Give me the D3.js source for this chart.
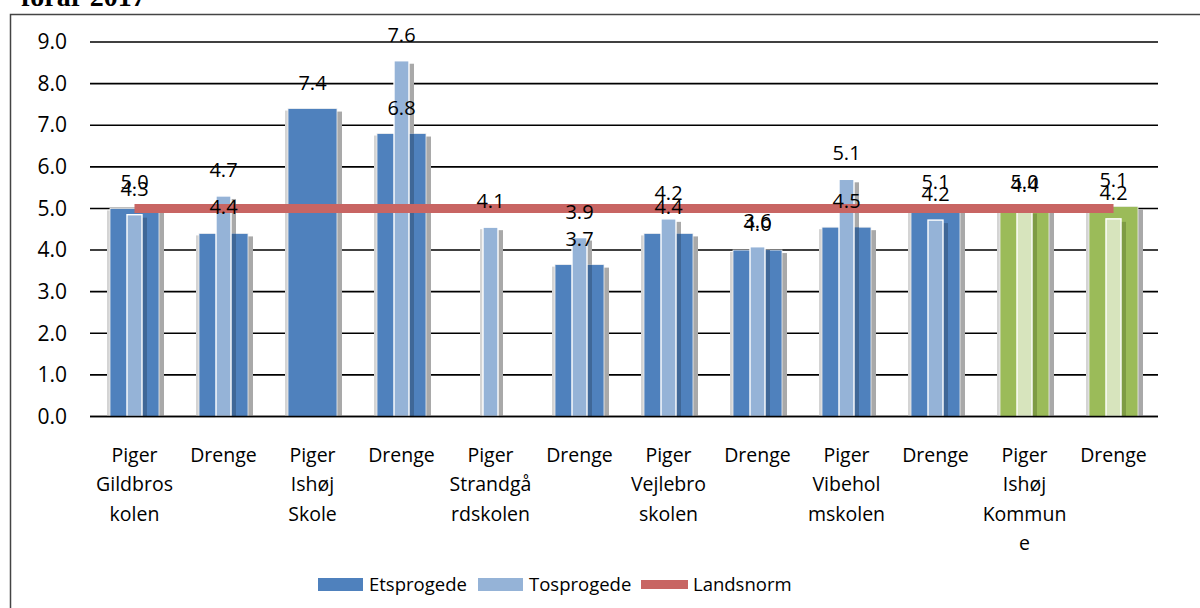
<!DOCTYPE html>
<html><head><meta charset="utf-8">
<script src="https://cdn.jsdelivr.net/npm/d3@7"></script>
<style>
body{margin:0;background:#fff;}
svg{display:block;}
</style></head>
<body>
<svg id="chart" width="1200" height="608"></svg>
<script>
// ---- data ----
const categories = [
  ["Piger","Gildbros","kolen"],
  ["Drenge"],
  ["Piger","Ishøj","Skole"],
  ["Drenge"],
  ["Piger","Strandgå","rdskolen"],
  ["Drenge"],
  ["Piger","Vejlebro","skolen"],
  ["Drenge"],
  ["Piger","Vibehol","mskolen"],
  ["Drenge"],
  ["Piger","Ishøj","Kommun","e"],
  ["Drenge"]
];
// bar heights as drawn
const etsprogede = [5.0, 4.4, 7.4, 6.8, null, 3.65, 4.4, 4.0, 4.55, 5.0, 5.0, 5.05];
const tosprogede = [4.85, 5.3, null, 8.55, 4.55, 4.3, 4.75, 4.08, 5.7, 4.72, 4.95, 4.75];
// data labels as printed
const etsLabels = ["5.0","4.4","7.4","6.8",null,"3.7","4.4","4.0","4.5","5.1","5.0","5.1"];
const tosLabels = ["4.3","4.7",null,"7.6","4.1","3.9","4.2","3.6","5.1","4.2","4.4","4.2"];
const landsnorm = [5,5,5,5,5,5,5,5,5,5,5,5];
const yTicks = [0,1,2,3,4,5,6,7,8,9];
const seriesNames = ["Etsprogede","Tosprogede","Landsnorm"];
const kommuneIdx = [10,11];

// ---- layout ----
const svg = d3.select("#chart");
const x0 = 90, x1 = 1158, yTop = 42, yBot = 416.5;
const idx = d3.range(categories.length);
const x = d3.scaleBand().domain(idx).range([x0, x1]).padding(0);
const y = d3.scaleLinear().domain([0, 9]).range([yBot, yTop]);
const font = "'Open Sans','Noto Sans',sans-serif";

// title (cut off at top)
svg.append("text").attr("x", 21).attr("y", 6)
  .attr("font-family","'Liberation Serif','DejaVu Serif',serif")
  .attr("font-weight","bold").attr("font-size", 28).attr("fill","#000")
  .text("forår 2017");

// outer frame
svg.append("rect").attr("x",10.5).attr("y",14.5).attr("width",1200).attr("height",700)
  .attr("fill","none").attr("stroke","#444").attr("stroke-width",1.5);

// gridlines
const grid = svg.append("g");
grid.selectAll("line").data(yTicks).join("line")
  .attr("x1", x0).attr("x2", x1)
  .attr("y1", d => y(d)).attr("y2", d => y(d))
  .attr("stroke", "#000").attr("stroke-width", 1.6);

// y axis labels
const yAxis = d3.axisLeft(y).tickValues(yTicks).tickFormat(d3.format(".1f")).tickSize(0).tickPadding(23);
const ya = svg.append("g").attr("transform", `translate(${x0},0)`).call(yAxis);
ya.select(".domain").remove();
ya.selectAll("text").attr("font-family", font).attr("font-size", 21).attr("fill","#000");

const bw = x.bandwidth();
const wideW = 49, narrowW = 15;
const col = i => kommuneIdx.includes(i)
  ? {dark:"#9BBB59", light:"#D7E4BD", shade:"#7E9B44"}
  : {dark:"#4F81BD", light:"#95B3D7", shade:"#3F6797"};

const bars = svg.append("g");
idx.forEach(i => {
  const cx = x(i) + bw/2;
  const c = col(i);
  const e = etsprogede[i], t = tosprogede[i];
  if (e != null) {
    const top = y(e), bx = cx - wideW/2;
    bars.append("rect").attr("x", bx-3).attr("y", top+2).attr("width", 3).attr("height", yBot-top-2).attr("fill","#d4d4d4");
    bars.append("rect").attr("x", bx+wideW).attr("y", top+3).attr("width", 5).attr("height", yBot-top-3).attr("fill","#a9a9a9");
    bars.append("rect").attr("x", bx).attr("y", top).attr("width", wideW).attr("height", yBot-top)
      .attr("fill", c.dark).attr("stroke","#f0f0f0").attr("stroke-width",0.8);
  }
  if (t != null) {
    const top = y(t), bx = cx - narrowW/2;
    const onDark = e != null;
    if (!onDark) bars.append("rect").attr("x", bx-3).attr("y", top+2).attr("width", 3).attr("height", yBot-top-2).attr("fill", "#d4d4d4");
    const sTop = onDark ? Math.max(top+3, y(e)) : top+3;
    bars.append("rect").attr("x", bx+narrowW).attr("y", sTop).attr("width", 5)
      .attr("height", yBot - sTop).attr("fill", onDark ? c.shade : "#a9a9a9");
    if (onDark && top + 3 < y(e)) {
      bars.append("rect").attr("x", bx+narrowW).attr("y", top+3).attr("width", 5).attr("height", y(e)-top-3).attr("fill","#a9a9a9");
    }
    bars.append("rect").attr("x", bx).attr("y", top).attr("width", narrowW).attr("height", yBot-top)
      .attr("fill", c.light).attr("stroke","#fff").attr("stroke-width",1.4);
  }
});

// bottom axis line
svg.append("line").attr("x1", x0).attr("x2", x1).attr("y1", yBot).attr("y2", yBot)
  .attr("stroke","#000").attr("stroke-width",1.6);

// landsnorm line
const line = d3.line().x((d,i) => x(i) + bw/2).y(d => y(d));
svg.append("path").datum(landsnorm).attr("d", line)
  .attr("fill","none").attr("stroke","#C86563").attr("stroke-width",9);

// data labels
const lab = svg.append("g").attr("font-family", font).attr("font-size", 20).attr("fill","#000").attr("text-anchor","middle");
idx.forEach(i => {
  const cx = x(i) + bw/2;
  if (etsLabels[i] != null) lab.append("text").attr("x", cx).attr("y", y(etsprogede[i]) - 19).text(etsLabels[i]);
  if (tosLabels[i] != null) lab.append("text").attr("x", cx).attr("y", y(tosprogede[i]) - 19).text(tosLabels[i]);
});

// category labels
const cl = svg.append("g").attr("font-family", font).attr("font-size", 19.5).attr("fill","#000").attr("text-anchor","middle");
idx.forEach(i => {
  const t = cl.append("text").attr("x", x(i) + bw/2).attr("y", 462);
  categories[i].forEach((ln, k) => t.append("tspan").attr("x", x(i) + bw/2).attr("dy", k ? 29.3 : 0).text(ln));
});

// legend
const leg = svg.append("g").attr("font-family", font).attr("font-size", 18.5).attr("fill","#000");
const legX = [318, 478, 641];
seriesNames.forEach((n, k) => {
  if (k < 2) leg.append("rect").attr("x", legX[k]).attr("y", 578).attr("width", 45).attr("height", 13).attr("fill", k ? "#95B3D7" : "#4F81BD");
  else leg.append("rect").attr("x", legX[k]).attr("y", 580).attr("width", 47).attr("height", 9).attr("fill", "#C86563");
  leg.append("text").attr("x", legX[k] + (k < 2 ? 51 : 52)).attr("y", 591).text(n);
});
</script>
</body></html>
